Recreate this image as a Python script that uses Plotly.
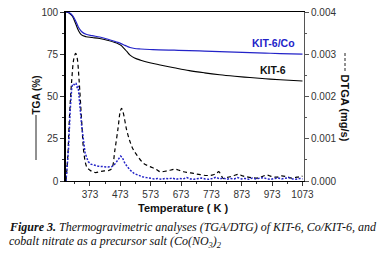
import plotly.graph_objects as go

# ---- TGA data (%), left axis ----
tga_T = [294, 305, 315, 325, 335, 345, 360, 380, 405, 430, 455, 465, 475, 485, 495, 505, 520, 540, 570, 600, 650, 700, 750, 800, 850, 900, 950, 1000, 1073]
tga_kit6 = [100, 99.3, 97.5, 93.5, 89, 86.5, 85.4, 84.9, 84.3, 83.3, 82, 81.3, 80.3, 78.5, 76.5, 74.5, 72.8, 71.5, 70, 68.8, 67, 65.3, 64, 62.9, 62, 61.2, 60.5, 59.9, 59.2]
tga_kit6co = [100, 99.5, 98, 95, 91, 88.5, 86.8, 86, 85.2, 84, 82.6, 82, 81.3, 80.5, 79.7, 79.0, 78.4, 78.1, 77.8, 77.6, 77.4, 77.2, 76.9, 76.6, 76.3, 76.0, 75.7, 75.4, 75.1]

# ---- DTG data (mg/s), right axis ----
dtg_kit6_T = [294, 300, 306, 313, 320, 326, 331, 337, 346, 353, 362, 372, 382, 392, 405, 420, 435, 445, 455, 466,
              472, 477, 483, 494, 505, 515, 527, 549, 571, 590, 604, 626, 640, 653, 668, 681, 697, 714, 736, 758,
              775, 790, 797, 805, 812, 822, 834, 848, 862, 876, 889, 905, 922, 938, 955, 970, 988, 1004, 1021, 1037,
              1054, 1065, 1073]
dtg_kit6 = [0, 0.0006, 0.0016, 0.0024, 0.0029, 0.00302, 0.0029, 0.0024, 0.00137, 0.00066, 0.00034, 0.00026, 0.00022, 0.0002, 0.00022, 0.00024, 0.00025, 0.0003, 0.00073, 0.00128,
            0.00162, 0.00172, 0.0016, 0.0012, 0.00093, 0.00075, 0.00062, 0.00042, 0.00034, 0.00028, 0.00022, 0.00024, 0.00026, 0.00028, 0.00025, 0.00022, 0.0002, 0.00018, 0.00015, 0.00013,
            0.00014, 0.00018, 0.00022, 0.00014, 0.00006, 0.00008, 0.0001, 0.00013, 0.00016, 0.00012, 0.0001, 0.00008, 0.00007, 0.0001, 0.00014, 0.00011, 0.00009, 0.00012, 0.0001, 0.00007,
            0.00009, 0.0001, 0.00012]

dtg_co_T = [294, 298, 302, 308, 313, 317, 322, 327, 331, 334, 337, 340, 346, 352, 357, 367, 376, 384, 400, 417,
            432, 445, 455, 461, 468, 474, 480, 488, 497, 505, 518, 531, 545, 560,
            572, 584, 596, 608, 620, 632, 644, 656, 668, 680, 692, 704, 716, 728, 740, 752, 764, 776, 788, 800,
            812, 824, 836, 848, 860, 872, 884, 896, 908, 920, 932, 944, 956, 968, 980, 992, 1004, 1016, 1028, 1040,
            1052, 1064, 1073]
dtg_co = [0, 0.0003, 0.00073, 0.0017, 0.00222, 0.0023, 0.00228, 0.00232, 0.0022, 0.00225, 0.00205, 0.00176, 0.00128, 0.0009, 0.00066, 0.00046, 0.0004, 0.00038, 0.00035, 0.00034,
          0.00033, 0.00034, 0.0004, 0.00046, 0.00053, 0.00059, 0.00055, 0.00042, 0.00033, 0.00026, 0.00018, 0.00014, 0.0001, 0.00008,
          0.00007, 0.00005, 0.00006, 0.00004, 0.00006, 0.00005, 0.00007, 0.00004, 0.00006, 0.00005, 0.00008, 0.00005, 0.00004, 0.00006, 0.00007, 0.00005, 0.00004, 0.00006, 0.00009, 0.00005,
          0.00007, 0.00004, 0.00006, 0.00005, 0.00008, 0.00005, 0.00006, 0.00004, 0.00007, 0.00005, 0.00006, 0.00008, 0.00005, 0.00004, 0.00006, 0.00007, 0.00005, 0.00006, 0.00008, 0.00005,
          0.00004, 0.00006, 0.00005]

x_ticks = [373, 473, 573, 673, 773, 873, 973, 1073]
y_ticks = [0, 25, 50, 75, 100]
y2_ticks = [0, 0.001, 0.002, 0.003, 0.004]
y2_labels = ["0.000", "0.001", "0.002", "0.003", "0.004"]

BLUE = "#2323c8"
FONT = "Arial, Liberation Sans, sans-serif"
SERIF = "Liberation Serif, Times New Roman, serif"

fig = go.Figure()
fig.add_trace(go.Scatter(x=dtg_kit6_T, y=dtg_kit6, mode="lines", yaxis="y2",
                         line=dict(color="black", width=1.2, dash="4px,3px"), line_shape="spline"))
fig.add_trace(go.Scatter(x=dtg_co_T, y=dtg_co, mode="lines", yaxis="y2",
                         line=dict(color=BLUE, width=1.5, dash="2px,1.5px")))
fig.add_trace(go.Scatter(x=tga_T, y=tga_kit6, mode="lines",
                         line=dict(color="black", width=1.1), line_shape="spline"))
fig.add_trace(go.Scatter(x=tga_T, y=tga_kit6co, mode="lines",
                         line=dict(color=BLUE, width=1.2), line_shape="spline"))

# plot area in screen coords: x 66..304, y 12..181
W, H = 385, 266
L, T = 66, 12
pw, ph = 238, 169
R, B = W - L - pw, H - T - ph

def px(x):
    return (x - L) / pw

def py(y):
    return (T + ph - y) / ph

fig.update_layout(
    width=W, height=H, margin=dict(l=L, r=R, t=T, b=B, autoexpand=False),
    paper_bgcolor="white", plot_bgcolor="white", showlegend=False,
    font=dict(family=FONT, size=10, color="#333"),
    xaxis=dict(range=[294, 1078], tickvals=x_ticks, ticks="outside", ticklen=4, tickwidth=1,
               tickcolor="#333", showline=True, linecolor="black", linewidth=1.2, mirror=True,
               showgrid=False, zeroline=False, automargin=False,
               minor=dict(dtick=50, tick0=323, ticks="outside", ticklen=2, tickcolor="#333")),
    yaxis=dict(range=[0, 100], tickvals=y_ticks, ticks="outside", ticklen=4, tickcolor="#333",
               showline=True, linecolor="black", linewidth=1.6, showgrid=False, zeroline=False,
               automargin=False, ticklabeloverflow="allow",
               minor=dict(dtick=12.5, ticks="outside", ticklen=2, tickcolor="#333")),
    yaxis2=dict(range=[0, 0.004], overlaying="y", side="right", tickvals=y2_ticks, ticktext=y2_labels,
                ticks="outside", ticklen=4, tickcolor="#555", showline=True, linecolor="#555",
                linewidth=1, showgrid=False, zeroline=False, automargin=False, ticklabeloverflow="allow",
                minor=dict(dtick=0.0005, ticks="outside", ticklen=2, tickcolor="#555")),
)

# axis-title line keys
fig.add_shape(type="line", xref="paper", yref="paper", x0=px(36), x1=px(36), y0=py(115), y1=py(160),
              line=dict(color="#222", width=1))
fig.add_shape(type="line", xref="paper", yref="paper", x0=px(345), x1=px(345), y0=py(53), y1=py(72),
              line=dict(color="#222", width=1, dash="3px,2px"))

ann = [
    dict(text="<b>Temperature ( K )</b>", x=px(183), y=py(208), font=dict(size=11, color="#111")),
    dict(text="<b>TGA (%)</b>", x=px(36.5), y=py(95), textangle=-90, font=dict(size=10, color="#111")),
    dict(text="<b>DTGA (mg/s)</b>", x=px(345), y=py(107.5), textangle=90, font=dict(size=11, color="#111")),
    dict(text="<b>KIT-6/Co</b>", x=px(273), y=py(43), font=dict(size=10.5, color=BLUE)),
    dict(text="<b>KIT-6</b>", x=px(273), y=py(70), font=dict(size=10.5, color="#111")),
    dict(text="<b><i>Figure 3.</i></b><i> Thermogravimetric analyses (TGA/DTG) of KIT-6, Co/KIT-6, and</i>",
         x=px(7), y=py(227), xanchor="left", font=dict(family=SERIF, size=12, color="#111")),
    dict(text="<i>cobalt nitrate as a precursor salt (Co(NO<sub>3</sub>)<sub>2</sub></i>",
         x=px(7), y=py(242), xanchor="left", font=dict(family=SERIF, size=12, color="#111")),
]
for a in ann:
    a.setdefault("xanchor", "center")
    fig.add_annotation(xref="paper", yref="paper", showarrow=False, yanchor="middle", **a)

fig.write_html("out.html", config={"displayModeBar": False},
               post_script="document.body.style.margin='0';")
